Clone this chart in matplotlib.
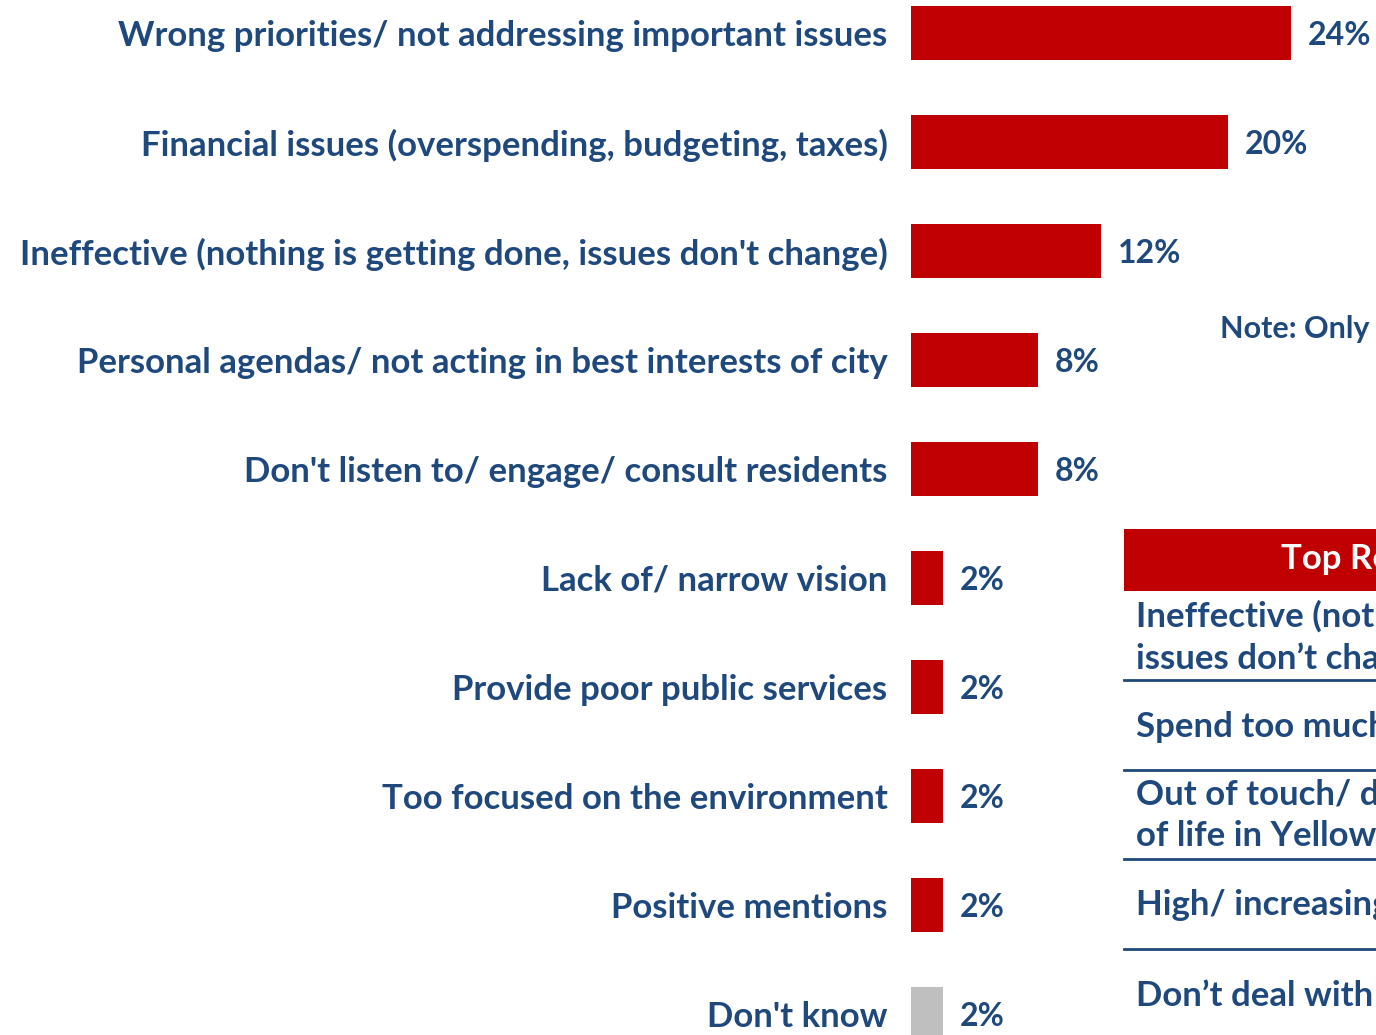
import matplotlib
matplotlib.use("Agg")
import matplotlib.pyplot as plt
from matplotlib.patches import Rectangle
from matplotlib.lines import Line2D

plt.rcParams["font.family"] = ["Lato", "DejaVu Sans"]
plt.rcParams["font.weight"] = "bold"

# ---- data ----
categories = [
    "Wrong priorities/ not addressing important issues",
    "Financial issues (overspending, budgeting, taxes)",
    "Ineffective (nothing is getting done, issues don't change)",
    "Personal agendas/ not acting in best interests of city",
    "Don't listen to/ engage/ consult residents",
    "Lack of/ narrow vision",
    "Provide poor public services",
    "Too focused on the environment",
    "Positive mentions",
    "Don't know",
]
values = [24, 20, 12, 8, 8, 2, 2, 2, 2, 2]
bar_colors = ["#C00000"] * 9 + ["#BFBFBF"]

note_text = "Note: Only responses of 2% or more are shown"
table_header = "Top Reasons for Dissatisfaction"
table_rows = [
    "Ineffective (nothing is getting done,\nissues don\u2019t change)",
    "Spend too much money",
    "Out of touch/ don\u2019t understand quality\nof life in Yellowknife",
    "High/ increasing taxes",
    "Don\u2019t deal with homelessness",
]

BLUE = "#1F497D"
RED = "#C00000"
W, H = 1376, 1035
FS = 25

fig = plt.figure(figsize=(W / 100, H / 100), dpi=100)


def fx(x):
    return x / W


def fy(y):
    return 1 - y / H


# ---- bars ----
ax = fig.add_axes([fx(911), 0, fx(465), 1])
pos = list(range(len(values)))
ax.barh(pos, values, height=0.495, color=bar_colors)
ax.set_xlim(0, 465 / 15.85)
ax.set_ylim((H - 33) / 109, -33 / 109)
ax.set_yticks(pos)
ax.set_yticklabels(categories, fontsize=FS, color=BLUE, fontweight="bold")
ax.tick_params(axis="y", length=0, pad=17)
ax.set_xticks([])
for s in ax.spines.values():
    s.set_visible(False)
for i, v in enumerate(values):
    ax.text(v + 1.05, i + 0.025, f"{v}%", va="center", ha="left",
            fontsize=23, color=BLUE, fontweight="bold")

# ---- note ----
fig.text(fx(1220), fy(329), note_text, fontsize=22, color=BLUE,
         fontweight="bold", va="center", ha="left")

# ---- table ----
fig.add_artist(Rectangle((fx(1124), fy(591)), fx(400), 62 / H,
                         transform=fig.transFigure, color=RED, lw=0))
fig.text(fx(1281), fy(559), table_header, fontsize=FS, color="white",
         fontweight="bold", va="center", ha="left")

row_y = [637, 727, 815, 905, 996]
line_y = [680, 770, 859, 949]
for y, t in zip(row_y, table_rows):
    fig.text(fx(1136), fy(y), t, fontsize=FS, color=BLUE, fontweight="bold",
             va="center", ha="left", linespacing=1.33)
for y in line_y:
    fig.add_artist(Line2D([fx(1124), 1], [fy(y), fy(y)],
                          transform=fig.transFigure, color=BLUE, lw=2))

fig.savefig("out.png", dpi=100)
